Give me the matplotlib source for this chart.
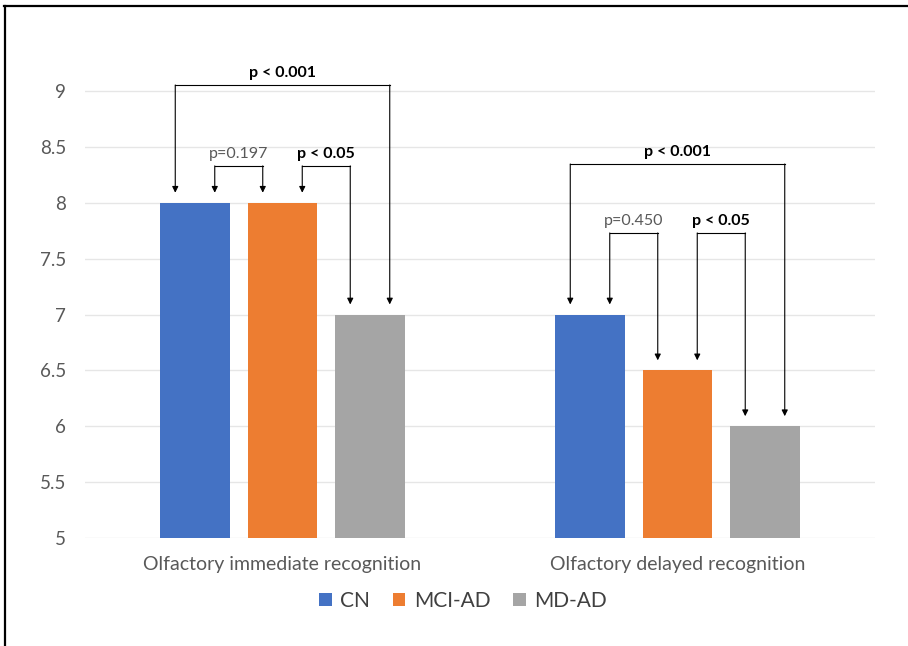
import matplotlib
matplotlib.use("Agg")
import matplotlib.pyplot as plt
from matplotlib.patches import Patch
from matplotlib.lines import Line2D

categories = ["Olfactory immediate recognition", "Olfactory delayed recognition"]
series = ["CN", "MCI-AD", "MD-AD"]
cn = [8, 7]
mci = [8, 6.5]
md = [7, 6]
colors = ["#4472C4", "#ED7D31", "#A5A5A5"]
yticks = [5, 5.5, 6, 6.5, 7, 7.5, 8, 8.5, 9]
ytick_labels = ["5", "5.5", "6", "6.5", "7", "7.5", "8", "8.5", "9"]

# comparisons: (category index, series a, series b, label, bold, bracket top)
comparisons = [
    (0, 0, 2, "p < 0.001", True, 9.054),
    (0, 0, 1, "p=0.197", False, 8.33),
    (0, 1, 2, "p < 0.05", True, 8.33),
    (1, 0, 2, "p < 0.001", True, 8.347),
    (1, 0, 1, "p=0.450", False, 7.73),
    (1, 1, 2, "p < 0.05", True, 7.73),
]

plt.rcParams['font.family'] = ['Lato', 'DejaVu Sans']
fig = plt.figure(figsize=(9.08, 6.46), dpi=100)
ax = fig.add_axes([85/908, 0.1672, 790/908, 0.7438])

values = [cn, mci, md]
d = 0.2215
w = 0.175
offsets = [-d, 0, d]
for s in range(3):
    xs = [i + offsets[s] for i in range(len(categories))]
    ax.bar(xs, values[s], width=w, color=colors[s], zorder=2)

ax.set_xlim(-0.5, 1.5)
ax.set_ylim(5, 9.3)
ax.set_yticks(yticks)
ax.set_yticklabels(ytick_labels)
ax.set_xticks([0, 1])
ax.set_xticklabels(categories)
ax.tick_params(axis='both', length=0, colors='#595959')
ax.tick_params(axis='y', pad=13.5, labelsize=13.5)
ax.tick_params(axis='x', pad=13, labelsize=14)
for sp in ax.spines.values():
    sp.set_visible(False)
ax.yaxis.grid(True, color='#E6E6E6', lw=1, zorder=0)

arrow_dx = 0.05
tip_gap = 0.09
for (c, a, b, label, bold, top) in comparisons:
    if a == 0 and b == 2:
        xa = c + offsets[a] - arrow_dx
        xb = c + offsets[b] + arrow_dx
    else:
        xa = c + offsets[a] + arrow_dx
        xb = c + offsets[b] - arrow_dx
    ya = values[a][c] + tip_gap
    yb = values[b][c] + tip_gap
    ax.plot([xa, xb], [top, top], color='black', lw=0.8, clip_on=False, zorder=3)
    for x, y in [(xa, ya), (xb, yb)]:
        ax.annotate('', xy=(x, y), xytext=(x, top),
                    arrowprops=dict(arrowstyle='-|>', color='black', lw=0.8,
                                    mutation_scale=9, shrinkA=0, shrinkB=0),
                    annotation_clip=False, zorder=3)
    ax.text((xa + xb) / 2, top + 0.045, label, ha='center', va='bottom',
            fontsize=11.5, fontweight='bold' if bold else 'normal',
            color='black' if bold else '#595959')

handles = [Patch(facecolor=colors[i], edgecolor='none', label=series[i]) for i in range(3)]
fig.legend(handles=handles, loc='center', bbox_to_anchor=(463/908, 1 - 601/646),
           ncol=3, frameon=False, fontsize=15, handlelength=0.6, handleheight=0.6,
           handletextpad=0.4, columnspacing=1.1, labelcolor='#404040')

fig.add_artist(Line2D([4/908, 1], [1 - 5.5/646, 1 - 5.5/646], transform=fig.transFigure,
                      color='black', lw=1.6))
fig.add_artist(Line2D([5/908, 5/908], [0, 1 - 5.5/646], transform=fig.transFigure,
                      color='black', lw=1.6))

fig.savefig("out.png", dpi=100)
